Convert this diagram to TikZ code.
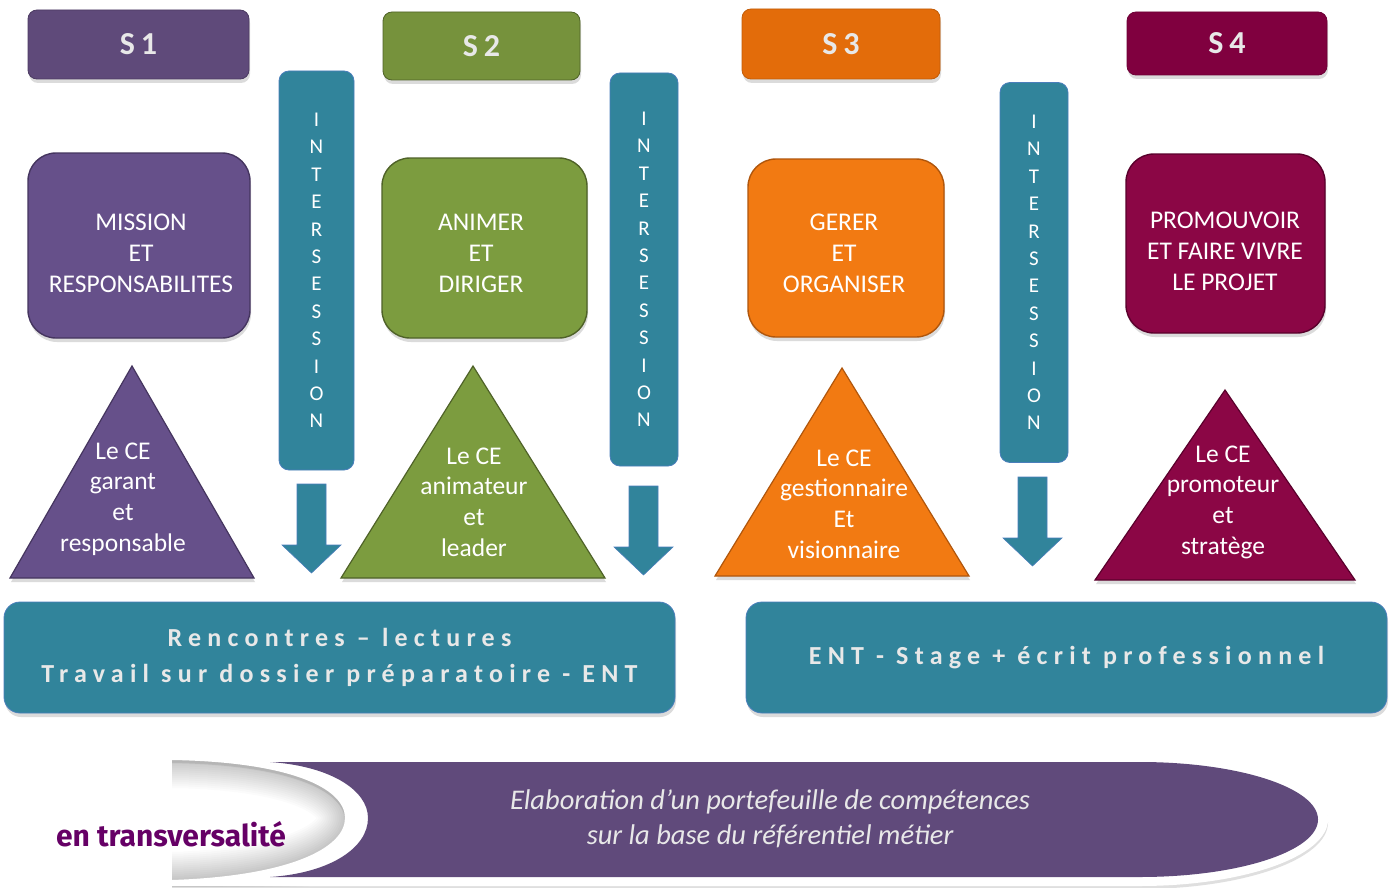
\documentclass[tikz,border=0pt]{standalone}
\usepackage{fontspec}
\setmainfont{Carlito}
\newfontfamily\spacedfont[LetterSpace=24]{Carlito}
\newfontfamily\headfont[LetterSpace=18]{Carlito}
\newfontfamily\comicfont{Fira Sans}
\usetikzlibrary{shadows}

\definecolor{purpH}{HTML}{5F4A7A}
\definecolor{purpB}{HTML}{66508A}
\definecolor{purpD}{HTML}{45355F}
\definecolor{greenH}{HTML}{76923C}
\definecolor{greenB}{HTML}{7C9C3F}
\definecolor{greenD}{HTML}{4F6228}
\definecolor{orH}{HTML}{E36C0A}
\definecolor{orB}{HTML}{F27A12}
\definecolor{orD}{HTML}{B0560C}
\definecolor{magH}{HTML}{80003F}
\definecolor{magB}{HTML}{8B0645}
\definecolor{magD}{HTML}{5A002C}
\definecolor{tealC}{HTML}{31849B}
\definecolor{tealE}{HTML}{4A7EBB}
\definecolor{bannerC}{HTML}{604A7B}
\definecolor{txtgray}{HTML}{E8E8E8}
\definecolor{comicC}{HTML}{660066}

\begin{document}
\begin{tikzpicture}[x=1pt,y=-1pt,
  shad/.style={drop shadow={opacity=0.28, shadow xshift=1pt, shadow yshift=-4pt}},
  headbox/.style={shad, rectangle, rounded corners=9pt, inner sep=0pt, line width=0.8pt,
    font=\headfont\bfseries\fontsize{32}{34}\selectfont, text=txtgray},
  mainbox/.style={shad, rectangle, rounded corners=28pt, line width=1.4pt},
  boxtext/.style={align=center, text=white, font=\fontsize{25.5}{31}\selectfont},
  interbar/.style={rectangle, fill=tealC, draw=tealE, line width=0.8pt, rounded corners=10pt,
    align=center, text=white, font=\fontsize{21}{27.4}\selectfont},
  tri/.style={shad, line width=1.2pt, line join=miter},
  tritext/.style={align=center, text=white, font=\fontsize{25.5}{30.7}\selectfont},
  arrowsh/.style={fill=tealC, draw=tealE, line width=0.6pt},
  tealbox/.style={shad, rectangle, fill=tealC, draw=tealE, line width=0.8pt, rounded corners=16pt,
    align=center, text=txtgray, font=\spacedfont\bfseries\fontsize{26}{36}\selectfont},
  blockarrow/.pic={\filldraw[arrowsh] (-14.5,0) -- (14.5,0) -- (14.5,61) -- (29.5,61) -- (0,89) -- (-29.5,61) -- (-14.5,61) -- cycle;}
]
\useasboundingbox (0,0) rectangle (1394,888);
\fill[white] (0,0) rectangle (1394,888);

% header boxes
\node[headbox, fill=purpH, draw=purpH!80!black, minimum width=221pt, minimum height=69pt] (s1) at (138.5,44.5) {S1};
\node[headbox, fill=greenH, draw=greenD, minimum width=197pt, minimum height=68pt] (s2) at (481.5,46) {S2};
\node[headbox, fill=orH, draw=orH!85!black, minimum width=198pt, minimum height=70pt] (s3) at (841,44) {S3};
\node[headbox, fill=magH, draw=magH!85!black, minimum width=200pt, minimum height=63pt] (s4) at (1227,43.5) {S4};

% main boxes
\node[mainbox, fill=purpB, draw=purpD, minimum width=222pt, minimum height=185pt] (m1) at (139,245.5) {};
\node[mainbox, fill=greenB, draw=greenD, minimum width=205pt, minimum height=180pt] (m2) at (484.5,248) {};
\node[mainbox, fill=orB, draw=orD, minimum width=196pt, minimum height=178pt] (m3) at (846,248) {};
\node[mainbox, fill=magB, draw=magD, minimum width=199pt, minimum height=179pt] (m4) at (1225.5,243.5) {};
\node[boxtext] (m1t) at (141,253) {MISSION\\ET\\RESPONSABILITES};
\node[boxtext] (m2t) at (481,253) {ANIMER\\ET\\DIRIGER};
\node[boxtext] (m3t) at (844,253) {GERER\\ET\\ORGANISER};
\node[boxtext] (m4t) at (1225,251) {PROMOUVOIR\\ET FAIRE VIVRE\\LE PROJET};

% intersession bars
\node[interbar, minimum width=75pt, minimum height=399pt] (b1) at (316.5,270.5) {I\\N\\T\\E\\R\\S\\E\\S\\S\\I\\O\\N};
\node[interbar, minimum width=68pt, minimum height=393pt] (b2) at (644,269.5) {I\\N\\T\\E\\R\\S\\E\\S\\S\\I\\O\\N};
\node[interbar, minimum width=68pt, minimum height=380pt] (b3) at (1034,272.5) {I\\N\\T\\E\\R\\S\\E\\S\\S\\I\\O\\N};

% block arrows
\pic at (311.5,484) {blockarrow};
\pic at (643.5,486) {blockarrow};
\pic at (1032.5,477) {blockarrow};

% triangles
\filldraw[tri, fill=purpB, draw=purpD] (132,366) -- (254,578) -- (10,578) -- cycle;
\filldraw[tri, fill=greenB, draw=greenD] (473,366) -- (605,578) -- (341,578) -- cycle;
\filldraw[tri, fill=orB, draw=orD] (842,368) -- (969,576) -- (715,576) -- cycle;
\filldraw[tri, fill=magB, draw=magD] (1225,390) -- (1355,580) -- (1095,580) -- cycle;
\node[tritext] (t1) at (123,499) {Le CE\\garant\\et\\responsable};
\node[tritext] (t2) at (474,502) {Le CE\\animateur\\et\\leader};
\node[tritext] (t3) at (844,504) {Le CE\\gestionnaire\\Et\\visionnaire};
\node[tritext] (t4) at (1223,502) {Le CE\\promoteur\\et\\stratège};

% teal boxes
\node[tealbox, minimum width=671pt, minimum height=111pt] (ta) at (339.5,657.5) {Rencontres – lectures\\Travail sur dossier préparatoire - ENT};
\node[tealbox, minimum width=641pt, minimum height=111pt] (tb) at (1066.5,657.5) {ENT - Stage + écrit professionnel};

% bottom banner: soft shadow along curved edge (clipped)
\begin{scope}
  \clip (172,753) rectangle (400,886);
  \foreach \w in {56,52,...,4}
    \draw[line width=\w pt, black, opacity=0.016]
      (172,760) .. controls (290,762) and (345,788) .. (345,818) .. controls (345,848) and (290,876) .. (172,880);
\end{scope}
% white frame
\fill[white, drop shadow={opacity=0.25, shadow xshift=0pt, shadow yshift=-3pt}]
  (172,753) -- (1140,753) .. controls (1243.8,753) and (1328,782.8) .. (1328,819.5)
  .. controls (1328,856.2) and (1243.8,886) .. (1140,886) -- (172,886) -- (172,880)
  .. controls (290,876) and (345,848) .. (345,818) .. controls (345,788) and (290,762) .. (172,760) -- cycle;
% purple band
\fill[bannerC]
  (270,762) -- (1140,762) .. controls (1238.3,762) and (1318,787.7) .. (1318,819.5)
  .. controls (1318,851.3) and (1238.3,877) .. (1140,877) -- (270,877)
  .. controls (330,873) and (368,848) .. (368,818) .. controls (368,790) and (330,766) .. (270,762) -- cycle;
\node[align=center, text=txtgray, font=\itshape\fontsize{28.5}{35}\selectfont] (bt) at (770,818.5)
  {Elaboration d’un portefeuille de compétences\\sur la base du référentiel métier};
\node[text=comicC, font=\comicfont\bfseries\fontsize{30}{32}\selectfont] (tv) at (171,834) {en transversalité};
\end{tikzpicture}
\end{document}
